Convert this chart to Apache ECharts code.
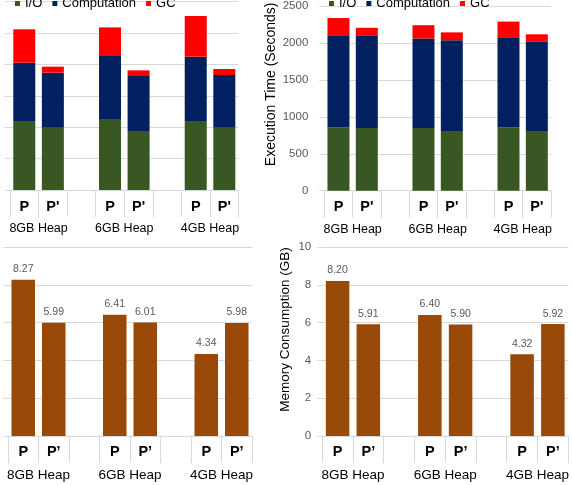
<!DOCTYPE html>
<html>
<head>
<meta charset="utf-8">
<script src="https://cdn.jsdelivr.net/npm/echarts@6/dist/echarts.min.js"></script>
<style>
  html, body { margin: 0; padding: 0; background: #fff; }
  #main { width: 572px; height: 485px; }
</style>
</head>
<body>
<div id="main"></div>
<script>
// categories: empty slot between heap sizes
const categories = ['P', "P'", '', 'P', "P'", '', 'P', "P'"]
const categoriesMem = ['P', 'P\u2019', '', 'P', 'P\u2019', '', 'P', 'P\u2019']
const heapLabels = ['8GB Heap', '6GB Heap', '4GB Heap']
const heapPos = [1, 4, 7]

// top left panel (its y labels are cropped away)
const ioLeft = [1088, 993, null, 1131, 929, null, 1088, 993]
const compLeft = [940, 876, null, 1004, 887, null, 1036, 839]
const gcLeft = [532, 96, null, 456, 90, null, 648, 96]

// top right panel, seconds
const ioRight = [855, 847, null, 847, 807, null, 855, 807]
const compRight = [1249, 1248, null, 1213, 1230, null, 1222, 1208]
const gcRight = [233, 110, null, 180, 106, null, 212, 102]

// memory consumption, GB
const memLeft = [8.27, 5.99, null, 6.41, 6.01, null, 4.34, 5.98]
const memRight = [8.20, 5.91, null, 6.40, 5.90, null, 4.32, 5.92]

const timeMax = 2500
const timeStep = 500
const timeMaxLeft = 3000
const memMax = 10
const memStep = 2

const FONT = "'Liberation Sans', Arial, sans-serif"
const GRID_COLOR = '#d9d9d9'
const colors = { io: '#385723', comp: '#002060', gc: '#ff0000', mem: '#984807' }

const grids = [
  { left: 10, top: 1.7, width: 228.6, height: 188.3 },
  { left: 324.3, top: 1.7, width: 226.7, height: 189 },
  { left: 8, top: 247, width: 244, height: 189 },
  { left: 322.2, top: 247, width: 247.5, height: 189 }
]

function catAxis(gridIndex, data, top) {
  return {
    type: 'category',
    gridIndex: gridIndex,
    data: data,
    axisLine: { show: true, lineStyle: { color: GRID_COLOR } },
    axisTick: { show: true, alignWithLabel: false, length: 27, lineStyle: { color: GRID_COLOR } },
    axisLabel: {
      interval: 0,
      margin: top ? 9 : 8,
      color: '#000',
      fontFamily: FONT,
      fontWeight: 'bold',
      fontSize: 14.5
    }
  }
}

// second bottom axis only used for the heap size row
function heapAxis(gridIndex, top) {
  return {
    type: 'value',
    gridIndex: gridIndex,
    position: 'bottom',
    min: 0,
    max: 8,
    interval: 1,
    axisLine: { show: false },
    axisTick: { show: false },
    splitLine: { show: false },
    axisLabel: {
      margin: 32,
      showMinLabel: true,
      showMaxLabel: true,
      color: '#000',
      fontFamily: FONT,
      fontSize: top ? 12.5 : 13.5,
      formatter: function (v) {
        const i = heapPos.indexOf(v)
        return i >= 0 ? heapLabels[i] : ''
      }
    }
  }
}

function valAxis(gridIndex, max, interval, showLabels, margin, name, nameGap, shift, nameSize) {
  return {
    type: 'value',
    gridIndex: gridIndex,
    min: 0,
    max: max,
    interval: interval,
    name: name,
    nameLocation: 'middle',
    nameGap: nameGap,
    nameMoveOverlap: false,
    nameTextStyle: {
      color: '#000',
      fontFamily: FONT,
      fontSize: nameSize,
      padding: [0, 0, 0, shift]
    },
    axisLine: { show: false },
    axisTick: { show: true, length: 5, lineStyle: { color: GRID_COLOR } },
    splitLine: { lineStyle: { color: GRID_COLOR } },
    axisLabel: {
      show: showLabels,
      margin: margin,
      color: '#595959',
      fontFamily: FONT,
      fontSize: 11.5,
      formatter: function (v) { return String(v) }
    }
  }
}

function stackSeries(name, data, xi, color, stack) {
  return {
    name: name,
    type: 'bar',
    stack: stack,
    xAxisIndex: xi,
    yAxisIndex: xi / 2,
    data: data,
    barWidth: 22,
    itemStyle: { color: color }
  }
}

function memSeries(data, xi) {
  return {
    name: 'Memory',
    type: 'bar',
    xAxisIndex: xi,
    yAxisIndex: xi / 2,
    data: data,
    barWidth: 23.5,
    itemStyle: { color: colors.mem },
    label: {
      show: true,
      position: 'top',
      distance: 5,
      color: '#595959',
      fontFamily: FONT,
      fontSize: 10.5,
      formatter: function (p) { return p.value == null ? '' : p.value.toFixed(2) }
    }
  }
}

function legend(left) {
  return {
    left: left,
    top: -3,
    padding: 0,
    itemWidth: 5,
    itemHeight: 5,
    itemGap: 10,
    icon: 'rect',
    data: ['I/O', 'Computation', 'GC'],
    textStyle: { color: '#000', fontFamily: FONT, fontSize: 13 }
  }
}

const chart = echarts.init(document.getElementById('main'))

chart.setOption({
  animation: false,
  grid: grids,
  legend: [legend(15), legend(329)],
  xAxis: [
    catAxis(0, categories, true), heapAxis(0, true),
    catAxis(1, categories, true), heapAxis(1, true),
    catAxis(2, categoriesMem, false), heapAxis(2, false),
    catAxis(3, categoriesMem, false), heapAxis(3, false)
  ],
  yAxis: [
    valAxis(0, timeMaxLeft, timeStep, false, 16, '', 40, 0, 14),
    valAxis(1, timeMax, timeStep, true, 16, 'Execution Time (Seconds)', 46, 28, 14),
    valAxis(2, memMax, memStep, false, 11, '', 30, 0, 14),
    valAxis(3, memMax, memStep, true, 11, 'Memory Consumption (GB)', 30, 24, 13.5)
  ],
  series: [
    stackSeries('I/O', ioLeft, 0, colors.io, 'l'),
    stackSeries('Computation', compLeft, 0, colors.comp, 'l'),
    stackSeries('GC', gcLeft, 0, colors.gc, 'l'),
    stackSeries('I/O', ioRight, 2, colors.io, 'r'),
    stackSeries('Computation', compRight, 2, colors.comp, 'r'),
    stackSeries('GC', gcRight, 2, colors.gc, 'r'),
    memSeries(memLeft, 4),
    memSeries(memRight, 6)
  ]
})
</script>
</body>
</html>
